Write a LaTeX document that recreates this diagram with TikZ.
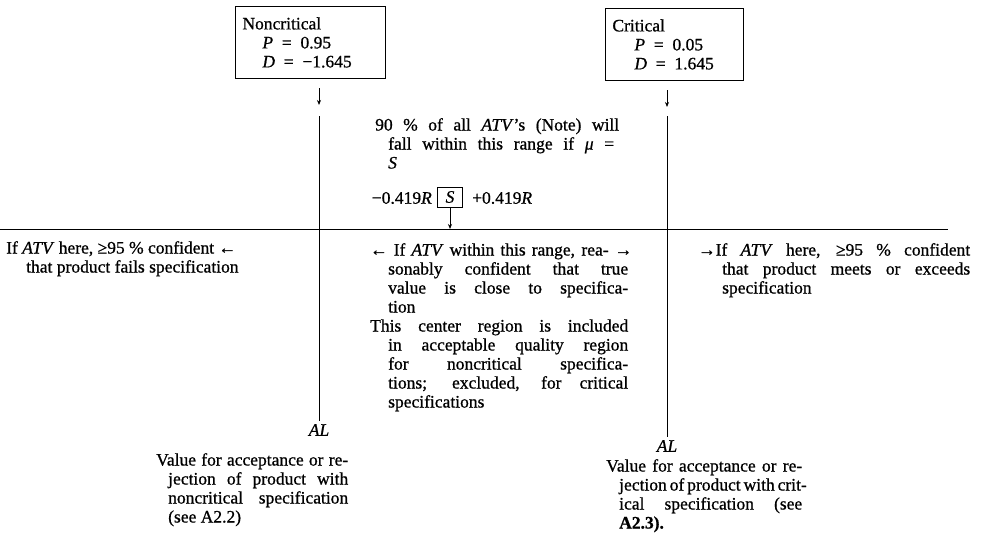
\documentclass[tikz,border=0pt]{standalone}
\usepackage{fontspec}
\setmainfont{Liberation Serif}[FakeBold=0.8]
\usetikzlibrary{arrows.meta}
\setlength{\parindent}{0pt}
\newcommand{\jline}[2]{\makebox[#1pt][s]{#2}}
\begin{document}
\begin{tikzpicture}[x=1pt,y=-1pt,
  every node/.style={font=\fontsize{17.5}{19}\selectfont, inner sep=0pt},
  valbox/.style={draw, line width=0.9pt, anchor=north west, align=left,
    inner xsep=7pt, inner ysep=5pt},
  conn/.style={line width=0.8pt},
  arr/.style={line width=0.8pt, -{Stealth[length=5pt,width=4pt]}},
  blk/.style={anchor=north west, align=left},
]
\useasboundingbox (0,0) rectangle (981,533);

% top boxes
\node[valbox, minimum width=150pt, minimum height=72pt, text width=136pt] (nc) at (235,6)
  {Noncritical\\\hspace*{20pt}\textit{P}\enspace=\enspace0.95\\\hspace*{20pt}\textit{D}\enspace=\enspace−1.645};
\node[valbox, minimum width=138pt, minimum height=72pt, text width=124pt] (cr) at (605,8)
  {Critical\\\hspace*{22pt}\textit{P}\enspace=\enspace0.05\\\hspace*{22pt}\textit{D}\enspace=\enspace1.645};

% arrows and vertical lines
\coordinate (la1) at (319,88);  \coordinate (la2) at (319,105);
\coordinate (lt) at (319,116);  \coordinate (lb) at (319,421);
\coordinate (ra1) at (667,90);  \coordinate (ra2) at (667,107);
\coordinate (rt) at (667,116);  \coordinate (rb) at (667,437);
\draw[arr] (la1) -- (la2);
\draw[conn] (lt) -- (lb);
\draw[arr] (ra1) -- (ra2);
\draw[conn] (rt) -- (rb);

% top centre text
\node[blk] (top) at (375,118)
  {\jline{244}{90 \% of all \textit{ATV}’s (Note) will}\\
   \hspace*{13pt}\jline{226}{fall within this range if \textit{μ} =}\\
   \hspace*{13pt}\textit{S}};

% range row
\node[anchor=east] (mr) at (432,198) {−0.419\textit{R}};
\node[draw, line width=0.9pt, minimum width=25pt, minimum height=20pt] (sb) at (450,197) {\textit{S}};
\node[anchor=west] (pr) at (472,198) {+0.419\textit{R}};

% horizontal line
\coordinate (hl) at (0,229);
\coordinate (hr) at (948,229);
\draw[conn] (hl) -- (hr);
\draw[arr] (sb.south) -- (sb.south |- hl);

% left text
\node[blk] (lefttxt) at (6,241)
  {If \textit{ATV} here, ≥95 \% confident ←\\
   \hspace*{20pt}that product fails specification};

% centre text
\node[blk] (ctr) at (370,243)
  {\jline{262}{← If \textit{ATV} within this range, rea- →}\\
   \hspace*{18pt}\jline{240}{sonably confident that true}\\
   \hspace*{18pt}\jline{240}{value is close to specifica-}\\
   \hspace*{18pt}tion\\
   \jline{258}{This center region is included}\\
   \hspace*{18pt}\jline{240}{in acceptable quality region}\\
   \hspace*{18pt}\jline{240}{for noncritical specifica-}\\
   \hspace*{18pt}\jline{240}{tions; excluded, for critical}\\
   \hspace*{18pt}specifications};

% right text
\node[blk] (righttxt) at (698,243)
  {\jline{272}{→If \textit{ATV} here, ≥95 \% confident}\\
   \hspace*{24pt}\jline{248}{that product meets or exceeds}\\
   \hspace*{24pt}specification};

% AL labels
\node[anchor=north] (all) at (lb) [yshift=-3pt] {\textit{AL}};
\node[anchor=north] (alr) at (rb) [yshift=-3pt] {\textit{AL}};

% bottom blocks
\node[blk] (bl) at (156,453)
  {\jline{192}{Value for acceptance or re-}\\
   \hspace*{12pt}\jline{180}{jection of product with}\\
   \hspace*{12pt}\jline{180}{noncritical specification}\\
   \hspace*{12pt}(see A2.2)};
\node[blk] (br) at (606,459)
  {\jline{196}{Value for acceptance or re-}\\
   \hspace*{13pt}\jline{183}{jection of product with crit-}\\
   \hspace*{13pt}\jline{183}{ical specification (see}\\
   \hspace*{13pt}\textbf{A2.3).}};
\end{tikzpicture}
\end{document}
